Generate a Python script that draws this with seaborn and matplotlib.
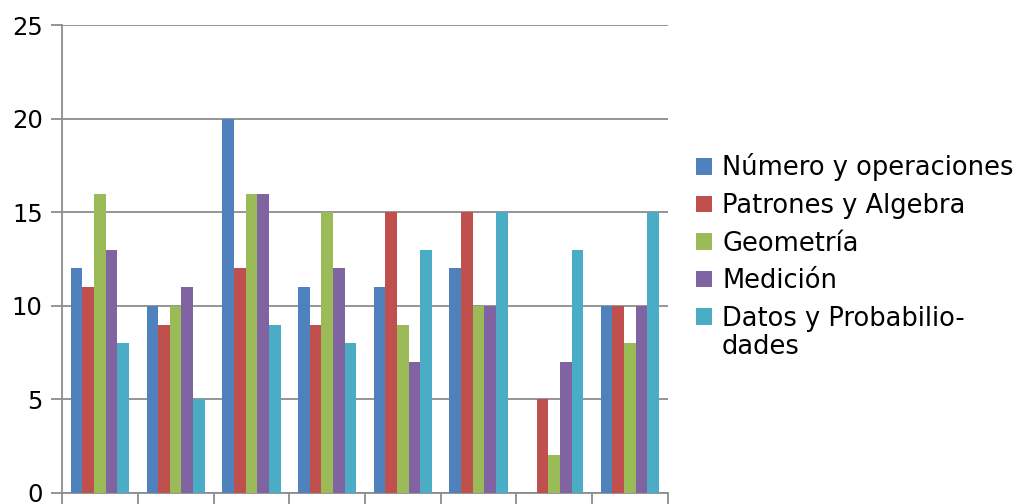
import numpy as np
import pandas as pd
import matplotlib
matplotlib.use("Agg")
import matplotlib.pyplot as plt
import seaborn as sns

# Datos
grupos = ["1", "2", "3", "4", "5", "6", "7", "8"]
series = ["Número y operaciones", "Patrones y Algebra", "Geometría",
          "Medición", "Datos y Probabilio-\ndades"]
numero = [12, 10, 20, 11, 11, 12, 0, 10]
patrones = [11, 9, 12, 9, 15, 15, 5, 10]
geometria = [16, 10, 16, 15, 9, 10, 2, 8]
medicion = [13, 11, 16, 12, 7, 10, 7, 10]
datos_prob = [8, 5, 9, 8, 13, 15, 13, 15]
colores = ["#4F81BD", "#C0504D", "#9BBB59", "#8064A2", "#4BACC6"]

valores = [numero, patrones, geometria, medicion, datos_prob]
filas = []
for s, vals in zip(series, valores):
    for g, v in zip(grupos, vals):
        filas.append({"grupo": g, "serie": s, "valor": v})
df = pd.DataFrame(filas)

sns.set_style("white")
plt.rcParams["font.family"] = ["DejaVu Sans"]
plt.rcParams["text.color"] = "black"

fig = plt.figure(figsize=(10.18, 5.04), dpi=100)
ax = fig.add_axes([0.061, 0.022, 0.595, 0.928])

sns.barplot(data=df, x="grupo", y="valor", hue="serie", hue_order=series,
            order=grupos, palette=colores, saturation=1, width=0.77,
            gap=0, linewidth=0, ax=ax, zorder=3)

ax.set_ylim(0, 25)
ax.set_yticks([0, 5, 10, 15, 20, 25])
ax.set_xlim(-0.5, 7.5)
ax.set_xticks(np.arange(-0.5, 8, 1))
ax.set_xticklabels([""] * 9)
ax.set_xlabel("")
ax.set_ylabel("")
ax.yaxis.grid(True, color="#8c8c8c", linewidth=1.3, zorder=0)
ax.tick_params(axis="y", labelsize=17.5, length=8, width=1.3, color="#8c8c8c",
               labelcolor="black", pad=6, left=True)
ax.tick_params(axis="x", length=10, width=1.3, color="#8c8c8c", bottom=True)
for lado in ["top", "right"]:
    ax.spines[lado].set_visible(False)
for lado in ["left", "bottom"]:
    ax.spines[lado].set_color("#8c8c8c")
    ax.spines[lado].set_linewidth(1.3)

# leyenda: el cuadro va con la primera linea de la ultima etiqueta
leg = ax.legend(title=None, frameon=False, fontsize=18.5, loc="upper left",
                bbox_to_anchor=(0.674, 0.716), bbox_transform=fig.transFigure,
                handlelength=0.6, handleheight=0.6, handletextpad=0.4,
                labelspacing=0.45, borderaxespad=0)
textos = leg.get_texts()
for t in textos:
    t.set_color("black")
textos[-1].set_text("Datos y Probabilio-")

# segunda linea de la ultima etiqueta
fig.canvas.draw()
caja = textos[-1].get_window_extent().transformed(fig.transFigure.inverted())
fig.text(caja.x0, caja.y0 - 0.005, "dades", va="top", ha="left",
         fontsize=18.5, color="black")

fig.savefig("out.png", dpi=100)
plt.close()
